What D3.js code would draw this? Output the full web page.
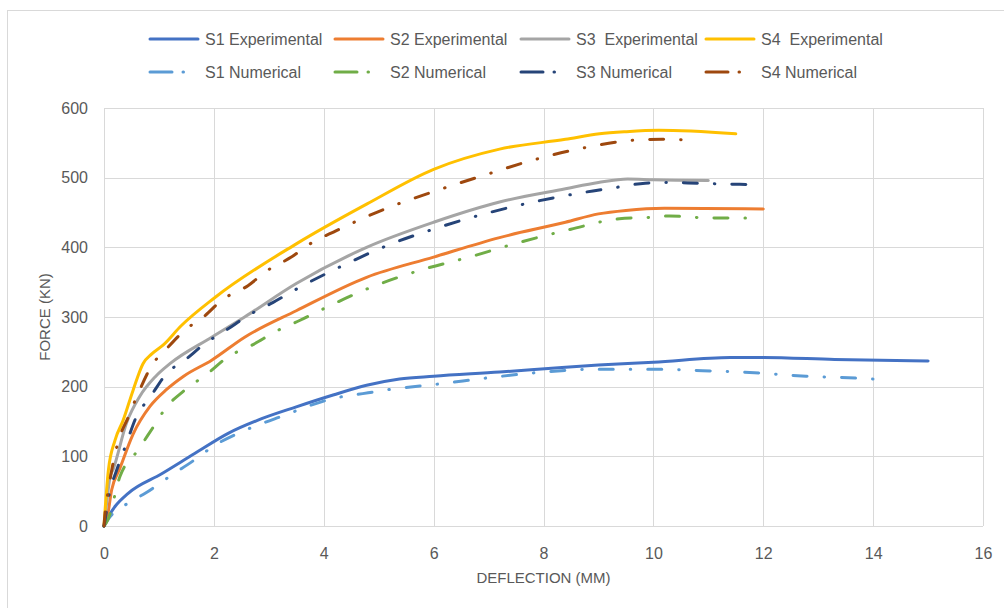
<!DOCTYPE html>
<html>
<head>
<meta charset="utf-8">
<script src="https://cdn.jsdelivr.net/npm/d3@7"></script>
<style>
  html, body { margin: 0; padding: 0; background: #fff; }
  svg { display: block; }
  text { font-family: "Liberation Sans", Arial, sans-serif; fill: #595959; white-space: pre; }
</style>
</head>
<body>
<svg id="chart" width="1004" height="608"></svg>
<script>
// ---- Data (deflection mm, force kN) ----
const s1Exp = [[0,0],[0.05,9],[0.2,28],[0.44,47],[1.05,75],[1.65,104],[2.26,133],[2.87,154],[3.5,171],[4.17,188],[4.78,202],[5.38,211],[6,215],[7.2,221],[8.4,228],[9.0,231],[10,235],[11.4,242],[12,242],[13.3,239],[15,237]];
const s2Exp = [[0,0],[0.05,9],[0.14,52],[0.29,83],[0.53,132],[0.84,172],[1.14,196],[1.45,215],[1.96,238],[2.56,271],[3.5,309],[4.78,357],[6,386],[7.2,414],[8.4,436],[9.0,448],[9.5,453],[10.2,456],[12,455]];
const s3Exp = [[0,0],[0.02,13],[0.11,70],[0.17,82],[0.41,148],[0.65,186],[0.93,214],[1.2,233],[1.96,271],[2.56,300],[3.5,348],[4.78,400],[6,436],[7.2,465],[8.4,484],[9.0,493],[9.53,498],[10,497],[11,496]];
const s4Exp = [[0,0],[0.02,23],[0.08,80],[0.2,123],[0.35,152],[0.53,195],[0.71,233],[0.87,247],[1.08,260],[1.4,287],[2.02,328],[3.5,405],[4.78,462],[6,512],[7.2,541],[8.4,555],[9.02,563],[9.5,566],[10.1,568],[11.5,563]];
const s1Num = [[0,0],[0.07,9],[0.44,33],[0.75,47],[1.23,73],[1.65,95],[2.02,116],[2.44,133],[2.87,147],[3.29,159],[3.75,173],[4.17,183],[4.71,190],[5.2,196],[6.11,204],[7.02,213],[8,221],[8.96,225],[9.93,225],[10.9,223],[11.84,220],[12.78,215],[13.75,212],[14.2,210]];
const s2Num = [[0,0],[0.07,9],[0.29,71],[0.62,109],[0.88,140],[1.14,171],[1.47,195],[1.89,219],[2.26,243],[2.68,259],[3.17,281],[3.56,295],[4,312],[4.78,340],[5.75,367],[6.65,386],[7.56,407],[8.5,426],[9.38,441],[9.93,443],[10.3,445],[10.78,443],[11.44,442],[11.71,442]];
const s3Num = [[0,0],[0.02,9],[0.1,47],[0.23,80],[0.41,119],[0.59,157],[0.84,185],[1.14,219],[1.47,238],[1.84,262],[2.26,283],[2.62,302],[3.08,321],[3.5,340],[4.35,374],[5.2,404],[6.11,429],[7.02,450],[7.93,467],[8.9,481],[9.32,486],[9.85,492],[10.3,493],[10.8,492],[11.75,490]];
const s4Num = [[0,0],[0.02,19],[0.07,47],[0.25,119],[0.44,156],[0.62,190],[0.89,233],[1.11,252],[1.47,281],[1.84,302],[2.14,324],[2.62,345],[2.98,367],[3.41,386],[3.75,405],[4.23,424],[5.08,454],[6,480],[6.9,503],[7.8,525],[8.75,543],[9.68,554],[10.16,555],[10.65,554]];

const seriesNames = ["S1 Experimental","S2 Experimental","S3  Experimental","S4  Experimental","S1 Numerical","S2 Numerical","S3 Numerical","S4 Numerical"];
const seriesData = [s1Exp, s2Exp, s3Exp, s4Exp, s1Num, s2Num, s3Num, s4Num];
const seriesColors = ["#4472C4","#ED7D31","#A5A5A5","#FFC000","#5B9BD5","#70AD47","#264478","#9E480E"];
const seriesDashed = [false,false,false,false,true,true,true,true];

const xTicks = [0,2,4,6,8,10,12,14,16];
const yTicks = [0,100,200,300,400,500,600];
const xTitle = "DEFLECTION (MM)";
const yTitle = "FORCE (KN)";

// ---- Layout ----
const svg = d3.select("#chart");
const plot = {left:104, right:983, top:108, bottom:526};

// outer chart border
svg.append("rect").attr("x",7.5).attr("y",10.5).attr("width",1010).attr("height",610)
  .attr("fill","none").attr("stroke","#D9D9D9").attr("stroke-width",1);

const x = d3.scaleLinear().domain([0,16]).range([plot.left, plot.right]);
const y = d3.scaleLinear().domain([0,600]).range([plot.bottom, plot.top]);

// gridlines
const g = svg.append("g");
g.selectAll("line.vx").data(xTicks).join("line")
  .attr("x1",d=>Math.round(x(d))+0.5).attr("x2",d=>Math.round(x(d))+0.5)
  .attr("y1",plot.top).attr("y2",plot.bottom)
  .attr("stroke","#D9D9D9").attr("stroke-width",1);
g.selectAll("line.hy").data(yTicks).join("line")
  .attr("y1",d=>Math.round(y(d))+0.5).attr("y2",d=>Math.round(y(d))+0.5)
  .attr("x1",plot.left).attr("x2",plot.right)
  .attr("stroke","#D9D9D9").attr("stroke-width",1);

// axes via d3 axis generators (labels only)
const xAxis = svg.append("g").attr("transform",`translate(0,${plot.bottom})`)
  .call(d3.axisBottom(x).tickValues(xTicks).tickSize(0).tickPadding(22));
xAxis.select(".domain").remove();
xAxis.selectAll("text").style("font-size","16px").attr("fill","#595959")
  .style("font-family","'Liberation Sans', Arial, sans-serif");

const yAxis = svg.append("g").attr("transform",`translate(${plot.left},0)`)
  .call(d3.axisLeft(y).tickValues(yTicks).tickSize(0).tickPadding(16));
yAxis.select(".domain").remove();
yAxis.selectAll("text").style("font-size","16px").attr("fill","#595959")
  .style("font-family","'Liberation Sans', Arial, sans-serif");

// axis titles
svg.append("text").attr("x",(plot.left+plot.right)/2).attr("y",583)
  .attr("text-anchor","middle").style("font-size","15px").text(xTitle);
svg.append("text").attr("transform",`translate(50,${(plot.top+plot.bottom)/2}) rotate(-90)`)
  .attr("text-anchor","middle").style("font-size","15px").text(yTitle);

// series
const line = d3.line().x(d=>x(d[0])).y(d=>y(d[1])).curve(d3.curveMonotoneX);
const lines = svg.append("g");
seriesData.forEach((data,i)=>{
  lines.append("path").datum(data)
    .attr("d",line)
    .attr("fill","none")
    .attr("stroke",seriesColors[i])
    .attr("stroke-width",3)
    .attr("stroke-linecap","round")
    .attr("stroke-linejoin","round")
    .attr("stroke-dasharray", seriesDashed[i] ? "14 17 0.5 17" : null);
});

// legend
const legX = [150, 335, 521, 706];
const legY = [39, 72];
const leg = svg.append("g");
seriesNames.forEach((name,i)=>{
  const col = i % 4, row = Math.floor(i/4);
  const lx = legX[col], ly = legY[row];
  leg.append("line").attr("x1",lx).attr("x2",lx+48).attr("y1",ly).attr("y2",ly)
    .attr("stroke",seriesColors[i]).attr("stroke-width",3)
    .attr("stroke-linecap","round")
    .attr("stroke-dasharray", seriesDashed[i] ? "22 11 0.5 40" : null);
  leg.append("text").attr("x",lx+55).attr("y",ly+6)
    .style("font-size","16px").text(name);
});
</script>
</body>
</html>
